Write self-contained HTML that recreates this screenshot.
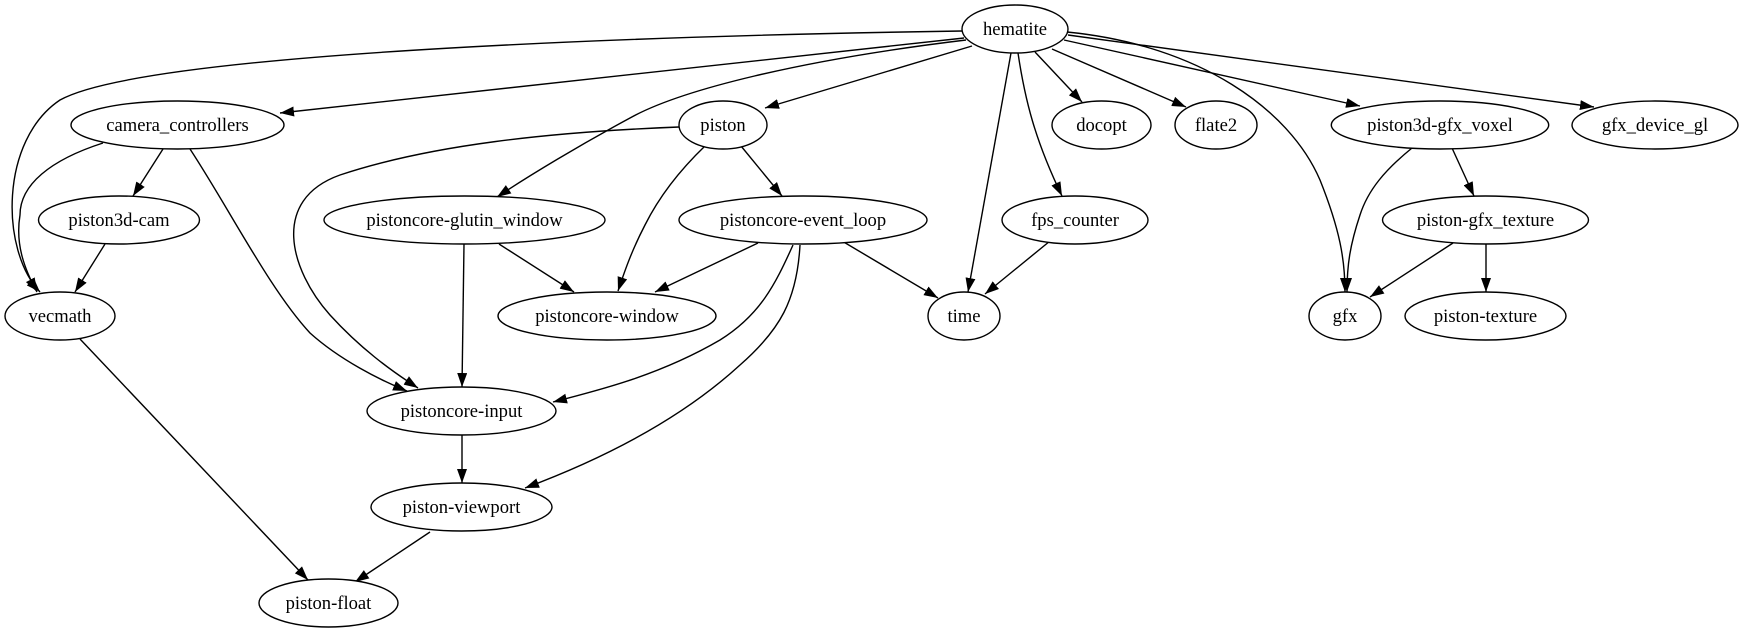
<!DOCTYPE html>
<html><head><meta charset="utf-8"><style>html,body{margin:0;padding:0;background:#fff}svg{display:block}</style></head>
<body>
<svg width="1743" height="635" viewBox="0 0 1743 635" xmlns="http://www.w3.org/2000/svg">
<defs><marker id="a" markerUnits="userSpaceOnUse" markerWidth="14" markerHeight="10" refX="14" refY="5" orient="auto"><path d="M0,0 L14,5 L0,10 z" fill="#000"/></marker></defs>
<g fill="none" stroke="#000" stroke-width="1.4" marker-end="url(#a)">
<path d="M962,31 C700,35 150,50 60,100 C0,140 0,250 40,292"/>
<path d="M964,38 L280,113"/>
<path d="M966,40 C800,60 680,90 630,118 C580,145 530,175 497,197"/>
<path d="M972,46 L765,108"/>
<path d="M1011,53 L968,292"/>
<path d="M1018,53 C1025,100 1035,140 1062,196"/>
<path d="M1035,52 L1082,102"/>
<path d="M1052,49 L1186,107"/>
<path d="M1067,32 C1200,45 1290,110 1320,180 C1340,230 1345,260 1345,292"/>
<path d="M1064,40 L1360,106"/>
<path d="M1068,35 L1594,107"/>
<path d="M103,143 C50,160 20,185 20,215 C15,245 25,270 37,292"/>
<path d="M163,149 L133,196"/>
<path d="M190,149 C230,210 270,290 310,333 C340,360 380,380 407,391"/>
<path d="M105,244 L75,292"/>
<path d="M80,339 L308,580"/>
<path d="M679,127 C550,132 430,145 340,175 C270,200 290,270 330,315 C360,348 390,370 418,388"/>
<path d="M705,146 C680,170 660,195 645,225 C632,250 625,270 618,291"/>
<path d="M741,146 L782,196"/>
<path d="M499,244 L574,292"/>
<path d="M464,244 L462,387"/>
<path d="M758,243 L655,292"/>
<path d="M793,245 C775,285 760,315 720,340 C660,375 600,390 553,402"/>
<path d="M800,245 C797,300 780,330 740,365 C680,420 600,460 525,488"/>
<path d="M842,241 L938,298"/>
<path d="M1050,241 L985,294"/>
<path d="M462,435 L462,483"/>
<path d="M430,532 L355,582"/>
<path d="M1412,148 C1385,170 1368,190 1360,215 C1350,245 1347,265 1347,292"/>
<path d="M1452,148 L1474,196"/>
<path d="M1453,243 L1370,297"/>
<path d="M1486,244 L1486,292"/>
</g>
<g fill="#fff" stroke="#000" stroke-width="1.4">
<ellipse cx="1015" cy="29" rx="53" ry="24"/>
<ellipse cx="177.5" cy="125" rx="106.5" ry="24"/>
<ellipse cx="723" cy="125" rx="44" ry="24"/>
<ellipse cx="1101.5" cy="125" rx="49.5" ry="24"/>
<ellipse cx="1216" cy="125" rx="41" ry="24"/>
<ellipse cx="1440" cy="125" rx="108.7" ry="24"/>
<ellipse cx="1655" cy="125" rx="83" ry="24"/>
<ellipse cx="119" cy="220" rx="80.5" ry="24"/>
<ellipse cx="464.5" cy="220" rx="140.5" ry="24"/>
<ellipse cx="803" cy="220" rx="124" ry="24"/>
<ellipse cx="1075" cy="220" rx="73" ry="24"/>
<ellipse cx="1485.5" cy="220" rx="103" ry="24"/>
<ellipse cx="60" cy="316" rx="55" ry="24"/>
<ellipse cx="607" cy="316" rx="109" ry="24"/>
<ellipse cx="964" cy="316" rx="36" ry="24"/>
<ellipse cx="1345" cy="316" rx="36" ry="24"/>
<ellipse cx="1485.5" cy="316" rx="80.5" ry="24"/>
<ellipse cx="461.5" cy="411" rx="94.5" ry="24"/>
<ellipse cx="461.5" cy="507" rx="90.5" ry="24"/>
<ellipse cx="328.5" cy="603" rx="69.5" ry="24"/>
</g>
<g font-family="Liberation Serif, serif" font-size="18.6" text-anchor="middle" fill="#000">
<text x="1015" y="35">hematite</text>
<text x="177.5" y="131">camera_controllers</text>
<text x="723" y="131">piston</text>
<text x="1101.5" y="131">docopt</text>
<text x="1216" y="131">flate2</text>
<text x="1440" y="131">piston3d-gfx_voxel</text>
<text x="1655" y="131">gfx_device_gl</text>
<text x="119" y="226">piston3d-cam</text>
<text x="464.5" y="226">pistoncore-glutin_window</text>
<text x="803" y="226">pistoncore-event_loop</text>
<text x="1075" y="226">fps_counter</text>
<text x="1485.5" y="226">piston-gfx_texture</text>
<text x="60" y="322">vecmath</text>
<text x="607" y="322">pistoncore-window</text>
<text x="964" y="322">time</text>
<text x="1345" y="322">gfx</text>
<text x="1485.5" y="322">piston-texture</text>
<text x="461.5" y="417">pistoncore-input</text>
<text x="461.5" y="513">piston-viewport</text>
<text x="328.5" y="609">piston-float</text>
</g>
</svg>
</body></html>
